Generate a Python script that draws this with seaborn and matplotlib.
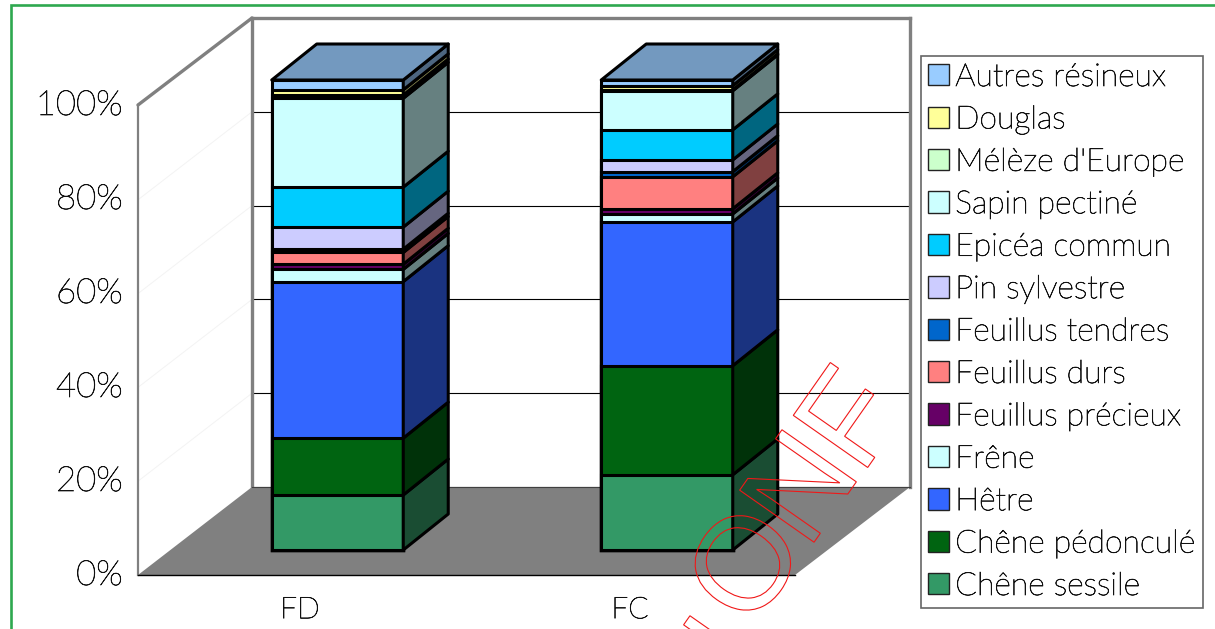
import numpy as np
import pandas as pd
import matplotlib
matplotlib.use("Agg")
import matplotlib.pyplot as plt
import matplotlib.patheffects as pe
import seaborn as sns
from matplotlib.font_manager import FontProperties
from matplotlib.patches import Patch, PathPatch, Polygon
from matplotlib.path import Path
from matplotlib.textpath import TextPath
from matplotlib.transforms import Affine2D, ScaledTranslation

# Share of each species per forest type, percent, bottom of the stack first
forests = ["FD", "FC"]
species = ["Chêne sessile", "Chêne pédonculé", "Hêtre", "Frêne", "Feuillus précieux",
           "Feuillus durs", "Feuillus tendres", "Pin sylvestre", "Epicéa commun",
           "Sapin pectiné", "Mélèze d'Europe", "Douglas", "Autres résineux"]
fd_share = [11.7, 12.1, 33.3, 2.6, 1.1, 2.5, 0.7, 4.7, 8.5, 18.9, 0.7, 1.1, 2.1]
fc_share = [16.0, 23.2, 30.6, 1.7, 1.1, 6.8, 1.1, 2.5, 6.4, 8.3, 0.2, 0.9, 1.2]
colors = ["#339966", "#006411", "#3366FF", "#CCFFFF", "#660066", "#FF8080", "#0066CC",
          "#CCCCFF", "#00CCFF", "#CCFFFF", "#CCFFCC", "#FFFF99", "#99CCFF"]
tick_values = [0, 20, 40, 60, 80, 100]

W, H = 1215, 629
FONT = "Lato"
FS = 23.0
TICK_FS = 25
LABEL_FS = 21.5
sns.set_theme(style="white")
plt.rcParams["font.family"] = [FONT, "DejaVu Sans"]
plt.rcParams["font.weight"] = "light"

# Thin letters get a hairline of ink so they stay dark at this size
inked = [pe.withStroke(linewidth=0.5, foreground="#111111")]

fig = plt.figure(figsize=(W / 100, H / 100), dpi=100, facecolor="white")


def pixel_axes(left, top, right, bottom, zorder):
    """Axes covering a pixel rectangle of the figure, measured from the top left."""
    ax = fig.add_axes([left / W, 1 - bottom / H, (right - left) / W, (bottom - top) / H],
                      zorder=zorder)
    ax.patch.set_alpha(0)
    return ax


# Floor, side wall hints and outer frame share a plain pixel canvas
canvas = pixel_axes(0, 0, W, H, 0)
canvas.set_xlim(0, W)
canvas.set_ylim(H, 0)
canvas.axis("off")
canvas.add_patch(Polygon([(138, 575), (252, 487), (910, 487), (795, 575)],
                         closed=True, fc="#808080", ec="none"))
canvas.plot([252, 138], [18, 105], color="#808080", lw=2.4, solid_capstyle="round")
for v in tick_values[1:-1]:
    offset = v * 4.69
    canvas.plot([138, 252], [575 - offset, 487 - offset], color="#f3f3f3", lw=0.7)
canvas.plot([11, 11, W], [H, 5, 5], color="#2EA84F", lw=1.9, solid_joinstyle="miter")

# Back wall with its gridlines
wall = pixel_axes(252, 18, 910, 487, 1)
wall.set_xlim(0, 1)
wall.set_ylim(0, 100)
wall.set_xticks([])
wall.set_yticks(tick_values)
wall.set_yticklabels([])
wall.tick_params(length=0)
wall.grid(axis="y", color="black", lw=0.8)
wall.set_axisbelow(True)
for name, spine in wall.spines.items():
    spine.set_visible(True)
    spine.set_color("#808080" if name != "bottom" else "#404040")
    spine.set_linewidth(2.4 if name != "bottom" else 0.8)

# Front plane carrying the axis labels
front = pixel_axes(138, 105, 795, 575, 2)
front.set_ylim(0, 100)
front.set_xlim((138 - 300) / 330, (795 - 300) / 330)
front.set_yticks(tick_values)
front.set_yticklabels([f"{v}%" for v in tick_values], fontsize=TICK_FS, color="#111111",
                      fontweight="light", path_effects=inked)
front.set_xticks(range(len(forests)))
front.set_xticklabels(forests, fontsize=LABEL_FS, color="#111111", fontweight="light",
                      path_effects=inked)
front.tick_params(axis="y", length=0, pad=11)
front.tick_params(axis="x", length=0, pad=16)
raise_labels = ScaledTranslation(0, 3 / 100, fig.dpi_scale_trans)
for label in front.get_yticklabels():
    label.set_transform(label.get_transform() + raise_labels)
sns.despine(ax=front, top=True, right=True)
front.spines["left"].set_color("#808080")
front.spines["left"].set_linewidth(1.6)
front.spines["bottom"].set_color("black")
front.spines["bottom"].set_linewidth(1.0)
front.grid(False)

# Stacked columns; the scale puts FD and FC on the floor with 4.7 px per percent
PX_Y = 4.7
PX_X = 329.5
BAR_W = 131.5 / PX_X
DEPTH_X = 45 / PX_X
DEPTH_Y = 36 / PX_Y
bars = pixel_axes(0, 0, W, H, 3)

shares = pd.DataFrame({"FD": fd_share, "FC": fc_share}, index=species)
tops = shares.cumsum()
tops = tops / tops.iloc[-1] * 100
bottoms = tops.shift(1).fillna(0)

outline = dict(edgecolor="black", linewidth=2.2)
for name, color in reversed(list(zip(species, colors))):
    long_form = pd.DataFrame({"forest": forests, "top": tops.loc[name, forests].values})
    sns.barplot(data=long_form, x="forest", y="top", order=forests, color=color,
                saturation=1, width=BAR_W, ax=bars, **outline)

for i, forest in enumerate(forests):
    right = i + BAR_W / 2
    left = i - BAR_W / 2
    for name, color in zip(species, colors):
        low, high = bottoms.loc[name, forest], tops.loc[name, forest]
        side = [(right, low), (right + DEPTH_X, low + DEPTH_Y),
                (right + DEPTH_X, high + DEPTH_Y), (right, high)]
        shade = tuple(c * 0.5 for c in matplotlib.colors.to_rgb(color))
        bars.add_patch(Polygon(side, closed=True, fc=shade, ec="black", lw=2.2,
                               joinstyle="round"))
    lid_color = tuple(c * 0.75 for c in matplotlib.colors.to_rgb(colors[-1]))
    lid = [(left, 100), (left + DEPTH_X, 100 + DEPTH_Y),
           (right + DEPTH_X, 100 + DEPTH_Y), (right, 100)]
    bars.add_patch(Polygon(lid, closed=True, fc=lid_color, ec="black", lw=2.2,
                           joinstyle="round"))

bars.set_xlim(-337.5 / PX_X, (W - 337.5) / PX_X)
bars.set_ylim(-(H - 550) / PX_Y, 100 + 80 / PX_Y)
bars.axis("off")

# Legend, top of the stack first
handles = [Patch(facecolor=c, edgecolor="#222222", lw=1.0, label=s)
           for s, c in zip(species[::-1], colors[::-1])]
legend = fig.legend(handles=handles, loc="upper left", fontsize=FS,
                    bbox_to_anchor=(921 / W, 1 - 56 / H), borderaxespad=0,
                    borderpad=0.22, labelspacing=0.42, handlelength=0.65,
                    handleheight=0.65, handletextpad=0.2, fancybox=False,
                    frameon=True, framealpha=1, edgecolor="#666666")
legend.get_frame().set_linewidth(1.2)
legend.set_zorder(4)
for text in legend.get_texts():
    text.set_color("#111111")
    text.set_fontweight("light")
    text.set_path_effects(inked)

# Outlined diagonal stamp laid over the chart
stamp = pixel_axes(0, 0, W, H, 5)
stamp.set_xlim(0, W)
stamp.set_ylim(H, 0)
stamp.axis("off")
stamp_font = FontProperties(family="Liberation Sans")
for char, cx, cy in [("N", 706, 672), ("O", 743, 563), ("N", 798, 486), ("F", 849, 415)]:
    glyph = TextPath((0, 0), char, size=132, prop=stamp_font)
    ext = glyph.get_extents()
    placement = (Affine2D()
                 .translate(-(ext.x0 + ext.x1) / 2, -(ext.y0 + ext.y1) / 2)
                 .rotate_deg(55)
                 .scale(1, -1)
                 .translate(cx, cy))
    stamp.add_patch(PathPatch(Path(placement.transform(glyph.vertices), glyph.codes),
                              fc="none", ec="#F01818", lw=0.8))

fig.savefig("out.png", dpi=100, facecolor="white")
